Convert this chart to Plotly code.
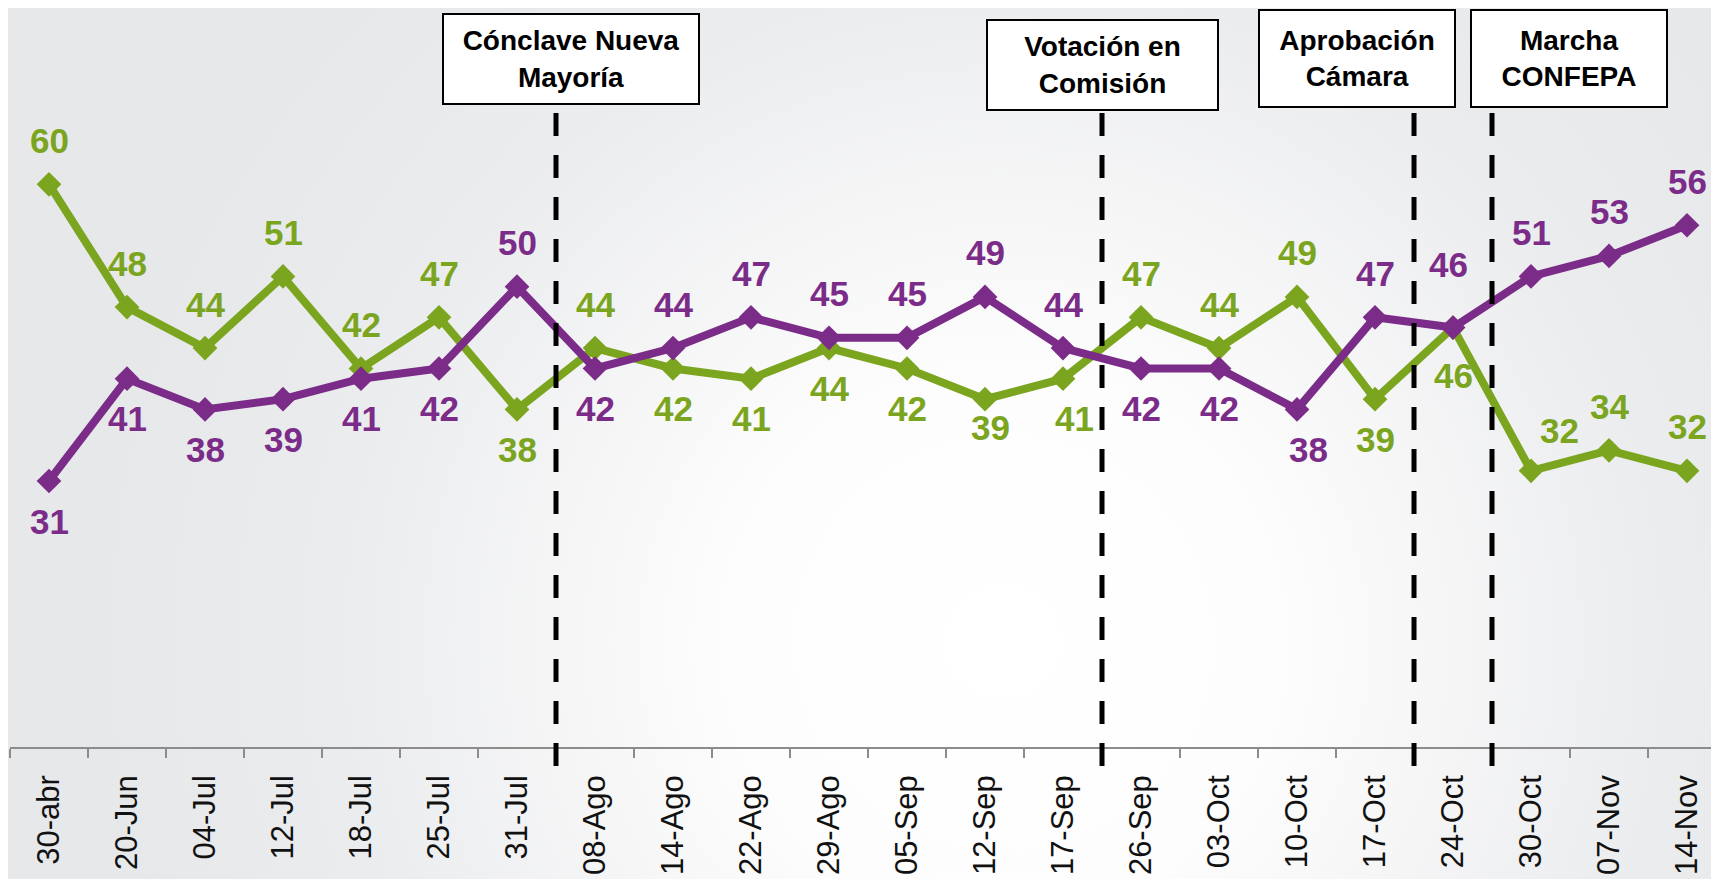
import base64
import plotly.graph_objects as go

# --- data -------------------------------------------------------------
fechas = ["30-abr", "20-Jun", "04-Jul", "12-Jul", "18-Jul", "25-Jul", "31-Jul",
          "08-Ago", "14-Ago", "22-Ago", "29-Ago", "05-Sep", "12-Sep", "17-Sep",
          "26-Sep", "03-Oct", "10-Oct", "17-Oct", "24-Oct", "30-Oct", "07-Nov", "14-Nov"]
verde = [60, 48, 44, 51, 42, 47, 38, 44, 42, 41, 44, 42, 39, 41, 47, 44, 49, 39, 46, 32, 34, 32]
morado = [31, 41, 38, 39, 41, 42, 50, 42, 44, 47, 45, 45, 49, 44, 42, 42, 38, 47, 46, 51, 53, 56]

# label side for each point (1 = above, -1 = below)
lado_verde = [1, 1, 1, 1, 1, 1, -1, 1, -1, -1, -1, -1, -1, -1, 1, 1, 1, -1, -1, 1, 1, 1]
lado_morado = [-1, -1, -1, -1, -1, -1, 1, -1, 1, 1, 1, 1, 1, 1, -1, -1, -1, 1, 1, 1, 1, 1]

# events: text and the date after which the dashed line sits
eventos = ["Cónclave Nueva<br>Mayoría", "Votación en<br>Comisión", "Aprobación<br>Cámara", "Marcha<br>CONFEPA"]
eventos_despues_de = ["31-Jul", "17-Sep", "17-Oct", "24-Oct"]

# --- style ------------------------------------------------------------
VERDE = "#7BA51F"
MORADO = "#7B2C88"
FONT = "Arial, Liberation Sans, sans-serif"
OFF = 8                      # page body margin of the html page
W, H = 1719 - OFF, 879 - OFF
ML, MB = 10 - OFF, 132
XMIN, XMAX = -0.5, 21.41
PX_PER_UNIT = 10.23
plot_w = W - ML
plot_h = H - MB
YMIN = 5
YMAX = YMIN + plot_h / PX_PER_UNIT


def ypaper(page_y):
    return 1 - (page_y - OFF) / plot_h


fig = go.Figure()
for vals, color in [(verde, VERDE), (morado, MORADO)]:
    fig.add_trace(go.Scatter(
        x=fechas, y=vals, mode="lines+markers",
        line=dict(color=color, width=8),
        marker=dict(symbol="diamond", size=19, color=color),
        hoverinfo="x+y", showlegend=False,
    ))

# data labels
nudge = {("v", 12): (5, -12), ("v", 13): (11, 0), ("m", 16): (11, 0),
         ("v", 19): (28, 4), ("v", 18): (0, 8), ("m", 18): (-5, -19)}
annots = []
for key, vals, sides, color in [("v", verde, lado_verde, VERDE), ("m", morado, lado_morado, MORADO)]:
    for i, (f, v, s) in enumerate(zip(fechas, vals, sides)):
        dx, dy = nudge.get((key, i), (0, 0))
        annots.append(dict(
            x=f, y=v, xref="x", yref="y", text=str(v), showarrow=False,
            yshift=(44 if s > 0 else -40) - dy, xshift=dx,
            font=dict(family=FONT, size=35, color=color, weight="bold"),
        ))

# event boxes: centre x (category units), centre y (page px), inner width, inner height
cajas = [(6.69, 59, 254, 88), (13.5, 65, 229, 88), (16.77, 58.5, 194, 95), (19.49, 58.5, 194, 95)]
for txt, (cx, cy, bw, bh) in zip(eventos, cajas):
    annots.append(dict(
        x=cx, y=ypaper(cy), xref="x", yref="paper", text=txt, showarrow=False,
        xanchor="center", yanchor="middle", width=bw, height=bh,
        bgcolor="white", bordercolor="black", borderwidth=2, borderpad=0,
        font=dict(family=FONT, size=28, color="black", weight="bold"),
    ))

# dashed event lines
shapes = []
for d in eventos_despues_de:
    k = fechas.index(d) + 0.5
    xp = (k - XMIN) / (XMAX - XMIN)
    shapes.append(dict(
        type="line", xref="paper", yref="paper", x0=xp, x1=xp,
        y0=ypaper(113), y1=ypaper(775),
        line=dict(color="black", width=5, dash="23px,19px"),
    ))

# radial background
svg = ('<svg xmlns="http://www.w3.org/2000/svg" width="1719" height="879" viewBox="0 0 1719 879" '
       'preserveAspectRatio="none"><defs><radialGradient id="g" cx="1000" cy="640" r="900" '
       'gradientUnits="userSpaceOnUse"><stop offset="0" stop-color="#ffffff"/>'
       '<stop offset="0.3" stop-color="#fdfdfd"/><stop offset="0.75" stop-color="#ebecee"/>'
       '<stop offset="1" stop-color="#e7e8ea"/></radialGradient></defs>'
       '<rect width="1719" height="879" fill="url(#g)"/></svg>')
bg = "data:image/svg+xml;base64," + base64.b64encode(svg.encode()).decode()

fig.update_layout(
    width=W, height=H,
    margin=dict(l=ML, r=0, t=0, b=MB),
    paper_bgcolor="#e9eaec", plot_bgcolor="rgba(0,0,0,0)",
    font=dict(family=FONT),
    annotations=annots, shapes=shapes,
    images=[dict(source=bg, xref="paper", yref="paper", x=-ML / plot_w, y=1,
                 sizex=W / plot_w, sizey=H / plot_h, xanchor="left", yanchor="top",
                 sizing="stretch", layer="below")],
    xaxis=dict(
        type="category", categoryorder="array", categoryarray=fechas,
        range=[XMIN, XMAX], tickson="boundaries", ticks="outside", ticklen=9,
        tickwidth=1.5, tickcolor="#8c8c8c", showline=True, linecolor="#8c8c8c",
        linewidth=1.5, showgrid=False, zeroline=False, tickangle=-90,
        tickfont=dict(family=FONT, size=31, color="#111111"), ticklabelstandoff=14,
        fixedrange=True,
    ),
    yaxis=dict(range=[YMIN, YMAX], visible=False, showgrid=False, fixedrange=True),
)

fig.write_html("out.html")
